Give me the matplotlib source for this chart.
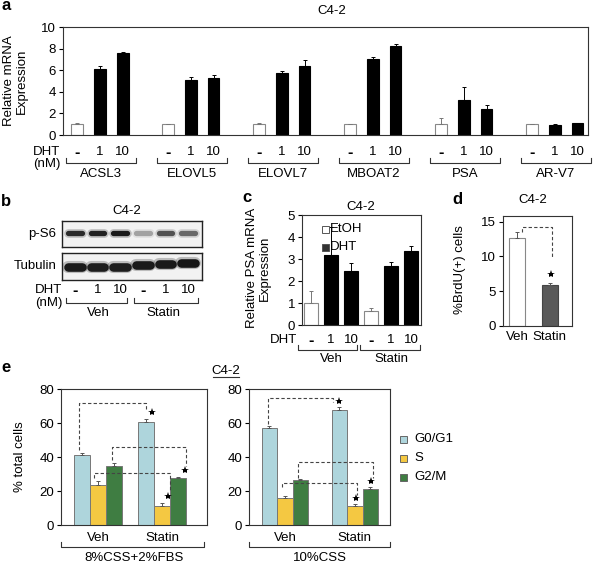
import numpy as np
import matplotlib
matplotlib.use('Agg')
import matplotlib.pyplot as plt
from matplotlib import transforms as mtransforms
from matplotlib.patches import Rectangle

# ---- data ----
genes = ['ACSL3', 'ELOVL5', 'ELOVL7', 'MBOAT2', 'PSA', 'AR-V7']
dht_doses = ['-', '1', '10']
mrna_mean = [[1.0, 6.1, 7.6], [1.0, 5.1, 5.3], [1.0, 5.7, 6.35],
             [1.0, 7.05, 8.25], [1.0, 3.2, 2.45], [1.0, 0.93, 1.12]]
mrna_err = [[0.1, 0.3, 0.08], [0.0, 0.3, 0.3], [0.1, 0.25, 0.6],
            [0.0, 0.2, 0.2], [0.55, 1.25, 0.35], [0.05, 0.05, 0.03]]

blot_rows = ['p-S6', 'Tubulin']
blot_lanes = ['-', '1', '10', '-', '1', '10']
treatments = ['Veh', 'Statin']
ps6_intensity = [0.85, 0.9, 0.95, 0.3, 0.65, 0.55]
tubulin_intensity = [0.95, 0.93, 0.93, 0.95, 0.95, 0.97]

psa_mean = [1.0, 3.2, 2.45, 0.65, 2.68, 3.38]
psa_err = [0.55, 1.25, 0.35, 0.12, 0.18, 0.22]
psa_group = ['EtOH', 'DHT', 'DHT', 'EtOH', 'DHT', 'DHT']

brdu_mean = [12.7, 5.85]
brdu_err = [0.75, 0.35]

phases = ['G0/G1', 'S', 'G2/M']
media = ['8%CSS+2%FBS', '10%CSS']
cc_fbs_mean = [[41.0, 23.3, 34.8], [60.8, 11.0, 27.6]]
cc_fbs_err = [[1.2, 2.5, 1.5], [1.3, 2.2, 0.6]]
cc_css_mean = [[57.0, 16.0, 26.5], [67.5, 11.2, 21.0]]
cc_css_err = [[1.4, 1.0, 0.4], [2.0, 1.0, 1.2]]

# ---- figure ----
W, H = 594, 563
plt.rcParams['font.family'] = ['Liberation Sans', 'DejaVu Sans']
plt.rcParams['font.size'] = 9
fig = plt.figure(figsize=(W / 100, H / 100), dpi=100)
px = mtransforms.Affine2D().scale(1 / W, -1 / H).translate(0, 1) + fig.transFigure


def add_ax(x0, y0, x1, y1):
    ax = fig.add_axes([x0 / W, 1 - y1 / H, (x1 - x0) / W, (y1 - y0) / H])
    for s in ax.spines.values():
        s.set_linewidth(0.8)
        s.set_color('#333333')
    ax.tick_params(axis='y', direction='out', length=3, width=0.8, pad=2,
                   labelsize=9.5)
    ax.set_xticks([])
    return ax


def ftext(x, y, s, **kw):
    kw.setdefault('ha', 'center')
    kw.setdefault('va', 'center')
    fig.text(x, y, s, transform=px, **kw)


def bracket(ax, x0, x1, ybot, h=5, **kw):
    tr = mtransforms.blended_transform_factory(ax.transData, px)
    ax.plot([x0, x0, x1, x1], [ybot - h, ybot, ybot, ybot - h], transform=tr,
            clip_on=False, color='#333333', lw=0.8, **kw)


def xtext(ax, x, y, s, **kw):
    tr = mtransforms.blended_transform_factory(ax.transData, px)
    kw.setdefault('ha', 'center')
    kw.setdefault('va', 'center')
    ax.text(x, y, s, transform=tr, clip_on=False, **kw)


def dose_label(ax, x, y, s):
    # the "no DHT" dash is printed short and heavy
    if s == '-':
        xtext(ax, x, y, s, fontsize=11.5, weight='bold')
    else:
        xtext(ax, x, y, s, fontsize=9.5)


# ---- a ----
ax = add_ax(63, 27, 588, 135)
for gi, g in enumerate(genes):
    for j in range(3):
        x = gi * 4 + j
        white = j == 0
        ax.bar(x, mrna_mean[gi][j], width=0.52,
               color='white' if white else 'black',
               edgecolor='#888888' if white else 'black', lw=0.8)
        ax.errorbar(x, mrna_mean[gi][j], yerr=[[0], [mrna_err[gi][j]]],
                    fmt='none', ecolor='#777777' if white else 'black',
                    elinewidth=0.7, capsize=1.5, capthick=0.7)
        dose_label(ax, x, 152, dht_doses[j])
    bracket(ax, gi * 4 - 0.5, gi * 4 + 2.6, 163)
    xtext(ax, gi * 4 + 1.05, 174, g, fontsize=9.5)
ax.set_xlim(-0.62, 22.46)
ax.set_ylim(0, 10)
ax.set_yticks(range(0, 11, 2))
ftext(47, 152, 'DHT', fontsize=9.5)
ftext(47, 164, '(nM)', fontsize=9.5)
ftext(15, 81, 'Relative mRNA\nExpression', rotation=90, fontsize=9.5,
      linespacing=1.1)
ftext(332, 11, 'C4-2', fontsize=9.5)
ftext(6, 6, 'a', fontsize=12, weight='bold')

# ---- b (blot) ----
tub_y = [0.5, 0.5, 0.5, 0.56, 0.6, 0.63]
for row, (y0, y1) in zip(blot_rows, [(221, 247), (253, 280)]):
    bx = fig.add_axes([62 / W, 1 - y1 / H, 140 / W, (y1 - y0) / H])
    bx.set_facecolor('#f2f2f2')
    for s in bx.spines.values():
        s.set_linewidth(1.0)
        s.set_color('#222222')
    bx.set_xticks([])
    bx.set_yticks([])
    bx.set_xlim(-0.575, 5.62)
    bx.set_ylim(0, 1)
    for i in range(6):
        if row == 'p-S6':
            a, yc, lw = ps6_intensity[i], 0.54, 3.8
        else:
            a, yc, lw = tubulin_intensity[i], tub_y[i], 6.2
        bx.plot([i - 0.3, i + 0.3], [yc, yc], color='#111111', lw=lw + 2.5,
                alpha=a * 0.25, solid_capstyle='round')
        bx.plot([i - 0.3, i + 0.3], [yc, yc], color='#111111', lw=lw,
                alpha=a, solid_capstyle='round')
    if row == 'p-S6':
        ftext(56, 234, row, ha='right', fontsize=9.5)
        blot_ax = bx
    else:
        ftext(57, 266, row, ha='right', fontsize=9.5)
for i, lab in enumerate(blot_lanes):
    dose_label(blot_ax, i, 290, lab)
bracket(blot_ax, -0.4, 2.3, 303)
bracket(blot_ax, 2.6, 5.45, 303)
xtext(blot_ax, 1.05, 313, treatments[0], fontsize=9.5)
xtext(blot_ax, 3.9, 313, treatments[1], fontsize=9.5)
ftext(62, 290, 'DHT', ha='right', fontsize=9.5)
ftext(62, 303, '(nM)', ha='right', fontsize=9.5)
ftext(127, 211, 'C4-2', fontsize=9.5)
ftext(6, 202, 'b', fontsize=12, weight='bold')

# ---- c ----
ax = add_ax(302, 215, 421, 325)
for i in range(6):
    et = psa_group[i] == 'EtOH'
    ax.bar(i, psa_mean[i], width=0.7, color='white' if et else 'black',
           edgecolor='#888888' if et else 'black', lw=0.8)
    ax.errorbar(i, psa_mean[i], yerr=[[0], [psa_err[i]]], fmt='none',
                ecolor='#777777' if et else 'black', elinewidth=0.7,
                capsize=1.5, capthick=0.7)
    dose_label(ax, i, 340, blot_lanes[i])
ax.set_xlim(-0.45, 5.5)
ax.set_ylim(0, 5)
ax.set_yticks(range(6))
for k, (lab, fc) in enumerate([('EtOH', 'white'), ('DHT', '#333333')]):
    yc = 229 + 18 * k
    fig.patches.append(Rectangle((322, yc - 3.5), 7, 7, transform=px,
                                 facecolor=fc, edgecolor='#555555', lw=0.7))
    ftext(330, yc, lab, ha='left', fontsize=9.5)
bracket(ax, -0.65, 2.3, 350)
bracket(ax, 2.45, 5.45, 350)
xtext(ax, 1.0, 359, treatments[0], fontsize=9.5)
xtext(ax, 4.0, 359, treatments[1], fontsize=9.5)
ftext(297, 340, 'DHT', ha='right', fontsize=9.5)
ftext(258, 268, 'Relative PSA mRNA\nExpression', rotation=90, fontsize=9.5,
      linespacing=1.1)
ftext(361, 207, 'C4-2', fontsize=9.5)
ftext(247, 198, 'c', fontsize=12, weight='bold')

# ---- d ----
ax = add_ax(503, 216, 572, 326)
for i in range(2):
    ax.bar(i, brdu_mean[i], width=0.49, color=['white', '#595959'][i],
           edgecolor=['#888888', '#444444'][i], lw=0.8)
    ax.errorbar(i, brdu_mean[i], yerr=[[0], [brdu_err[i]]], fmt='none',
                ecolor='#555555', elinewidth=0.7, capsize=1.5, capthick=0.7)
    xtext(ax, i, 337, treatments[i], fontsize=9.5)
ax.plot([0.14, 0.14, 1.07, 1.07], [13.5, 14.2, 14.2, 9.95], ls=(0, (3, 2)),
        color='#444444', lw=0.8)
ax.plot(1.03, 7.4, marker='*', color='black', ms=6, mew=0)
ax.set_xlim(-0.43, 1.69)
ax.set_ylim(0, 15.8)
ax.set_yticks([0, 5, 10, 15])
ftext(460, 270, '%BrdU(+) cells', rotation=90, fontsize=9.5)
ftext(533, 200, 'C4-2', fontsize=9.5)
ftext(457, 200, 'd', fontsize=12, weight='bold')

# ---- e ----
colors = ['#aed5dc', '#f4c842', '#3f7d42']
panels = [
    ((61, 389, 207, 525), cc_fbs_mean, cc_fbs_err, 4.0, (-2.31, 6.81),
     [[(-1.19, 44), (-1.19, 72), (3.0, 72), (3.0, 68), (3.4, 66.5)],
      [(0.875, 38.5), (0.875, 46), (5.5, 46), (5.5, 34.5), (5.45, 32.3)],
      [(-0.25, 27.5), (-0.25, 30.5), (4.5, 30.5), (4.5, 19.5), (4.4, 17.0)]]),
    ((249, 389, 390, 525), cc_css_mean, cc_css_err, 4.5, (-2.32, 6.77),
     [[(-1.1, 59.5), (-1.1, 74.8), (3.1, 74.8), (3.1, 72.5), (3.5, 72.7)],
      [(0.84, 27.5), (0.84, 37.3), (5.68, 37.3), (5.68, 27.5), (5.55, 26.0)],
      [(-0.2, 22.6), (-0.2, 24.6), (4.65, 24.6), (4.65, 17.7), (4.55, 15.8)]]),
]
for pi, (box, mean, err, gx, xl, brs) in enumerate(panels):
    ax = add_ax(*box)
    for ti in range(2):
        c0 = ti * gx
        for k in range(3):
            ax.bar(c0 + k - 1, mean[ti][k], width=1.0, color=colors[k],
                   edgecolor='#777777', lw=0.7)
            ax.errorbar(c0 + k - 1, mean[ti][k], yerr=[[0], [err[ti][k]]],
                        fmt='none', ecolor='#555555', elinewidth=0.7,
                        capsize=1.5, capthick=0.7)
        xtext(ax, c0, 538, treatments[ti], fontsize=9.5)
    for b in brs:
        xs = [p[0] for p in b[:4]]
        ys = [p[1] for p in b[:4]]
        ax.plot(xs, ys, ls=(0, (3, 2)), color='#444444', lw=0.8)
        ax.plot(b[4][0], b[4][1], marker='*', color='black', ms=6, mew=0)
    ax.set_xlim(*xl)
    ax.set_ylim(0, 80)
    ax.set_yticks(range(0, 81, 20))
    bracket(ax, xl[0] + 0.02, xl[1] - (0.2 if pi == 0 else 0.0), 547)
    xtext(ax, (xl[0] + xl[1]) / 2, 558, media[pi], fontsize=9.5)

for k, ph in enumerate(phases):
    yc = 439 + 19 * k
    fig.patches.append(Rectangle((400, yc - 3.5), 7, 7, transform=px,
                                 facecolor=colors[k], edgecolor='#666666',
                                 lw=0.7))
    ftext(414, yc, ph, ha='left', fontsize=9.5)
ftext(20, 457, '% total cells', rotation=90, fontsize=9.5)
ftext(226, 371, 'C4-2', fontsize=9.5)
fig.lines.append(plt.Line2D([213, 239], [377, 377], transform=px,
                            color='#333333', lw=0.8))
ftext(6, 368, 'e', fontsize=12, weight='bold')

fig.savefig('out.png', dpi=100)
